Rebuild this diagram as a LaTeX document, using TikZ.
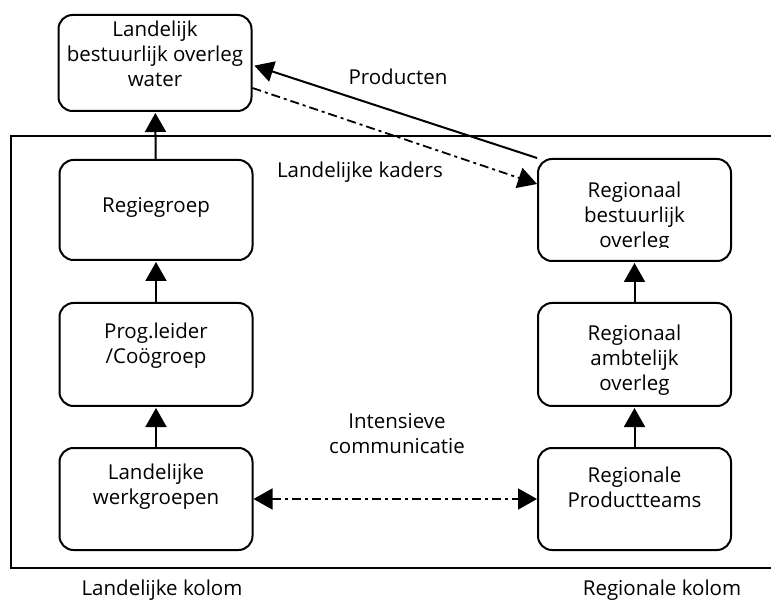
\documentclass[tikz,border=0pt]{standalone}
\usepackage{fontspec}
\setmainfont{Open Sans}
\usetikzlibrary{arrows.meta}
\begin{document}
\begin{tikzpicture}[x=1pt,y=-1pt,
  box/.style={draw, line width=2pt, rounded corners=14pt, minimum width=193pt, inner sep=0pt},
  txt/.style={font=\fontsize{20.5}{25}\selectfont, align=center, inner sep=0pt},
  arr/.style={line width=2pt, -{Triangle[length=19pt,width=21pt]}, shorten >=1pt},
  dd/.style={line width=1.8pt, dash pattern=on 9pt off 4pt on 3pt off 4pt}
]
\useasboundingbox (0,0) rectangle (771,601);
% frame
\draw[line width=2pt] (771,136) -- (11,136) -- (11,568) -- (771,568);
% boxes
\node[box, minimum height=96pt]  (lbow) at (155,63) {};
\node[box, minimum height=100pt] (reg)  at (156,210) {};
\node[box, minimum height=103pt] (prog) at (156,354.5) {};
\node[box, minimum height=102pt] (lw)   at (156,499) {};
\node[box, minimum height=102pt] (rbo)  at (634.5,210) {};
\node[box, minimum height=103pt] (rao)  at (634.5,354.5) {};
\node[box, minimum height=102pt] (rp)   at (634.5,499) {};
% box texts
\node[txt] (tlbow) at (155,54) {Landelijk\\bestuurlijk overleg\\water};
\node[txt] (treg)  at (156,207) {Regiegroep};
\node[txt] (tprog) at (156,346) {Prog.leider\\/Coögroep};
\node[txt] (tlw)   at (156,487) {Landelijke\\werkgroepen};
\begin{scope}
  \clip (540,165) rectangle (730,248);
  \node[txt] (trbo) at (634.5,217) {Regionaal\\bestuurlijk\\overleg};
\end{scope}
\node[txt] (trao)  at (634.5,360) {Regionaal\\ambtelijk\\overleg};
\node[txt] (trp)   at (634.5,487) {Regionale\\Productteams};
% free labels
\node[txt] (lprod) at (398,77) {Producten};
\node[txt] (lkad)  at (360,172) {Landelijke kaders};
\node[txt] (lcom)  at (397,434) {Intensieve\\communicatie};
\node[txt] (lkl)   at (162,590) {Landelijke kolom};
\node[txt] (lkr)   at (662,590) {Regionale kolom};
% vertical arrows
\draw[arr] (reg) -- (lbow);
\draw[arr] (prog) -- (reg);
\draw[arr] (lw) -- (prog);
\draw[arr] (rao) -- (rbo);
\draw[arr] (rp) -- (rao);
% diagonal arrows
\draw[arr, shorten >=2pt] (rbo.north west) -- ([yshift=-2pt]lbow.east);
\draw[dd, -{Triangle[length=19pt,width=21pt]}] ([yshift=-25pt]lbow.east) -- ([yshift=26pt]rbo.west);
% horizontal double arrow
\draw[dd, {Triangle[length=19pt,width=21pt]}-{Triangle[length=19pt,width=21pt]}] (lw.east) -- (rp.west);
\end{tikzpicture}
\end{document}
